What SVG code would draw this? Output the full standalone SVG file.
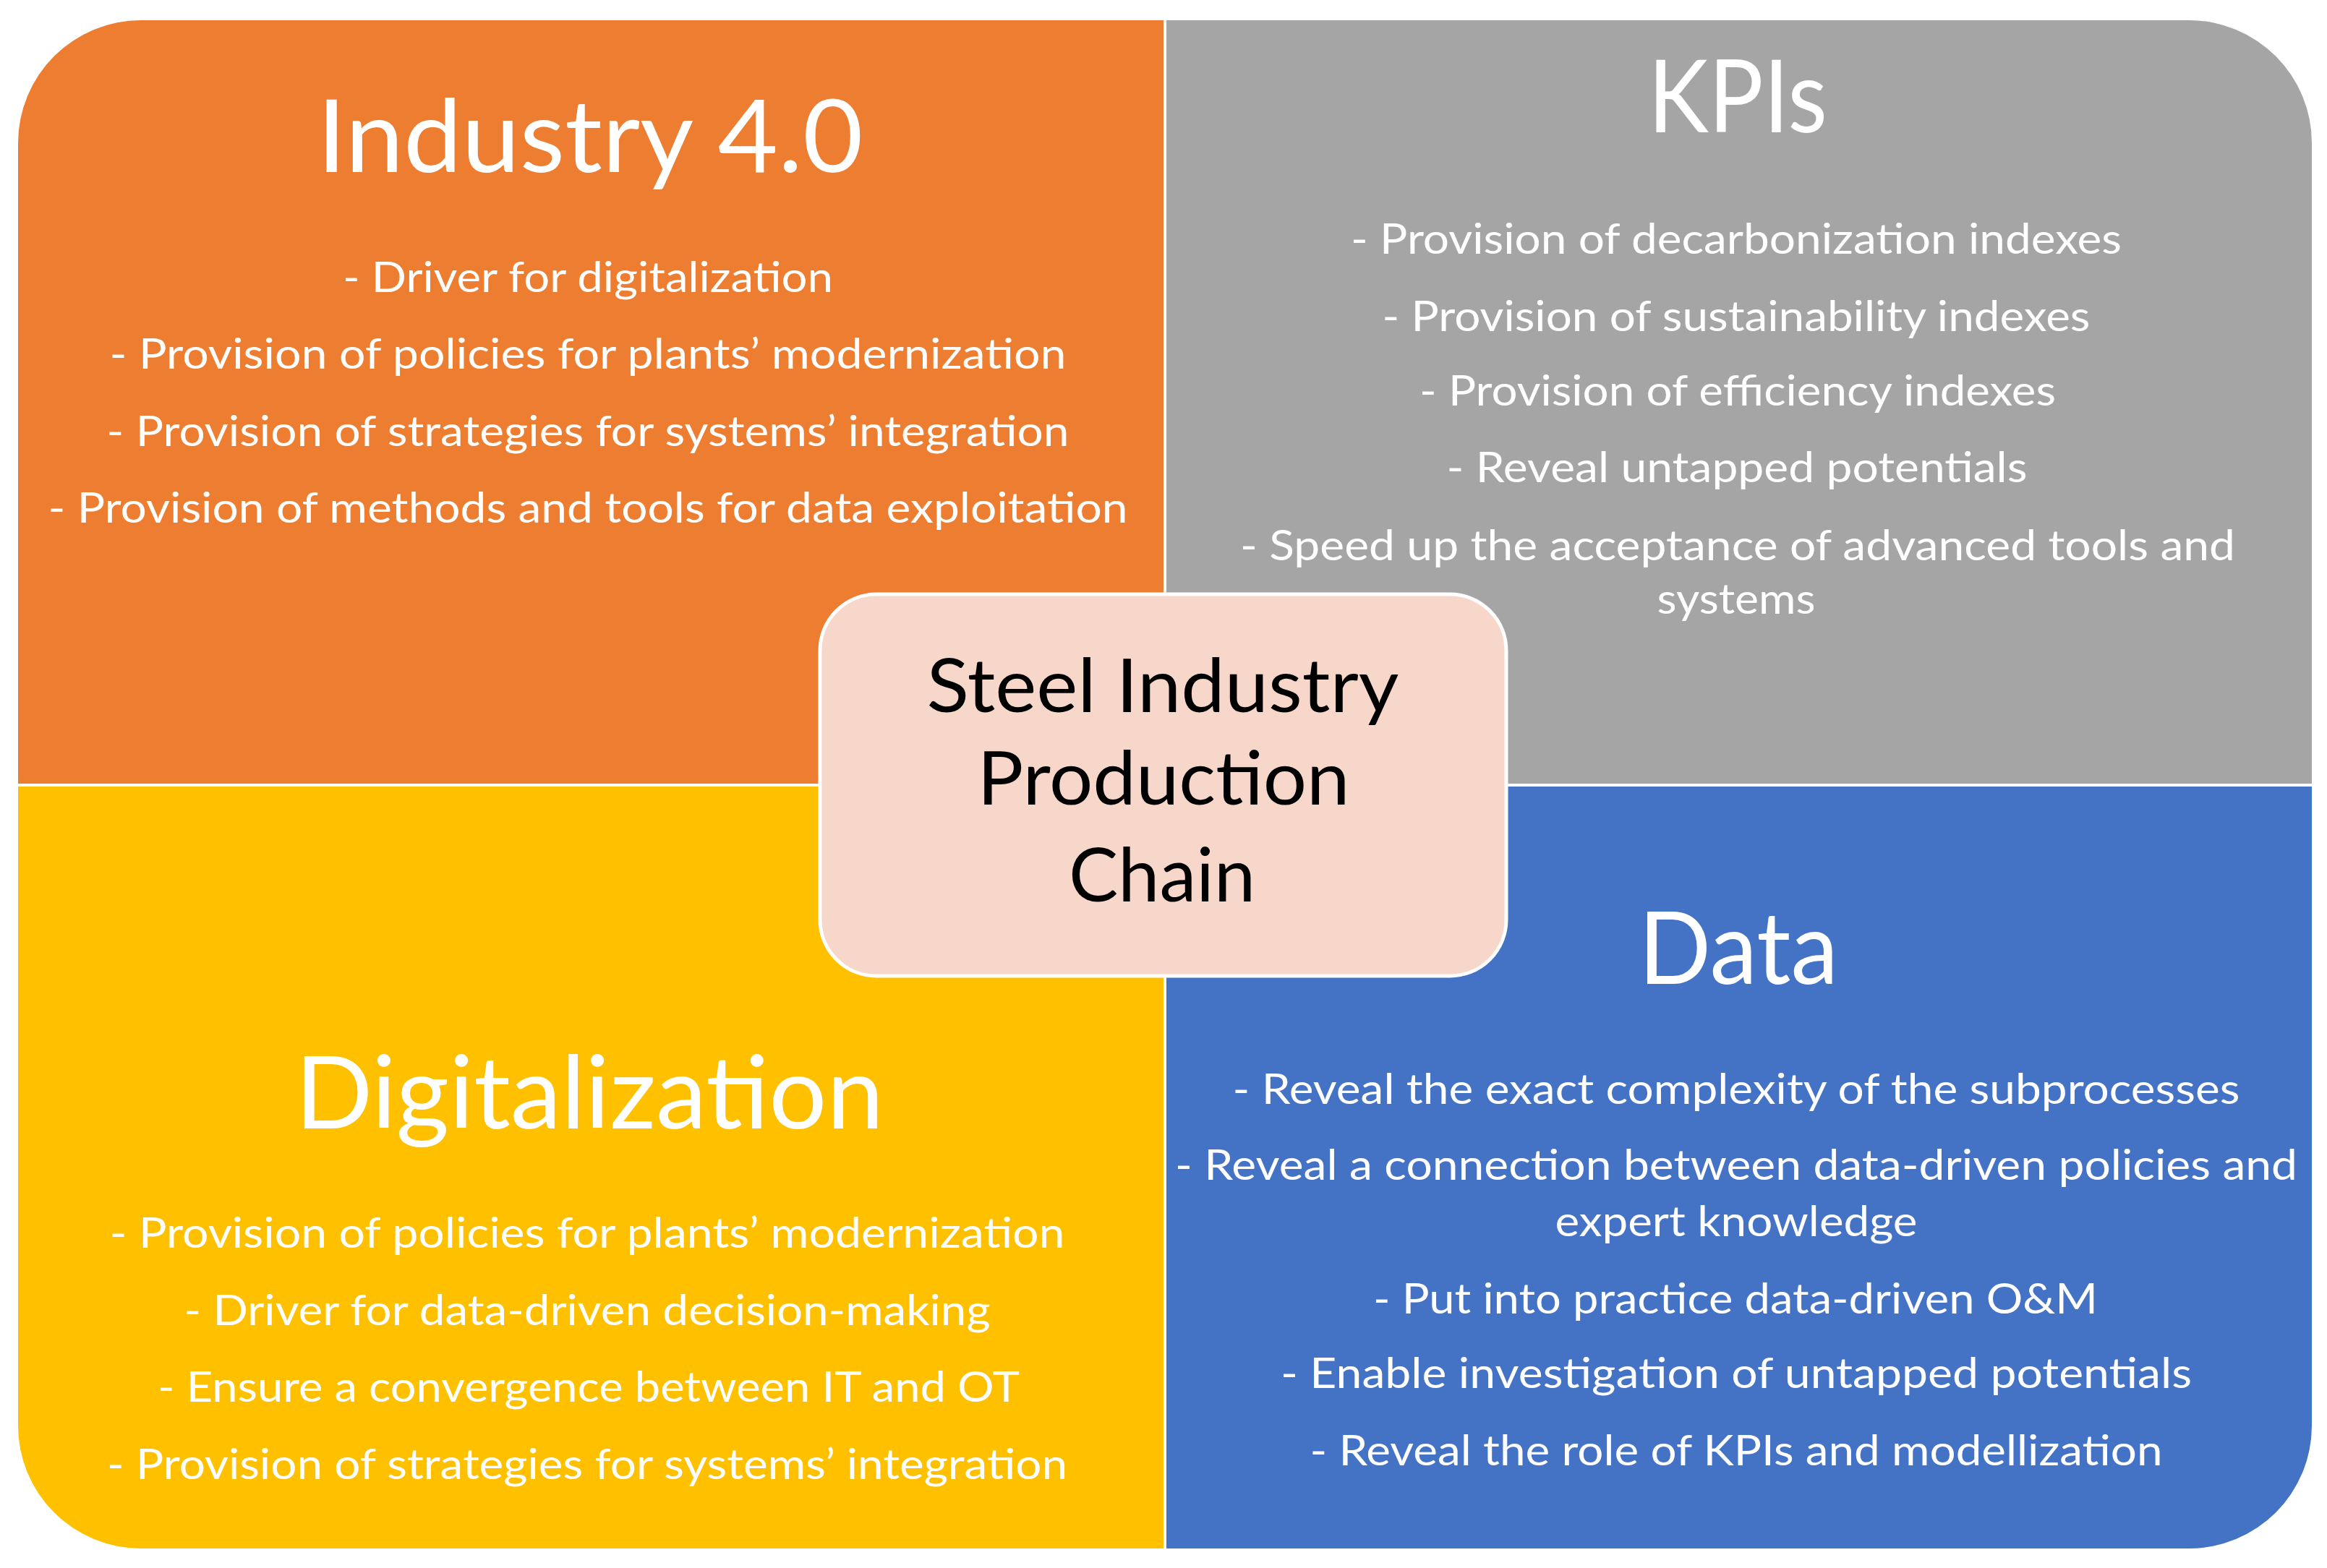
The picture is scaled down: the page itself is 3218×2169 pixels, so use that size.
<svg xmlns="http://www.w3.org/2000/svg" width="3218" height="2169" viewBox="0 0 3218 2169">
<style>
.t{font-family:Lato,"Open Sans","Liberation Sans",sans-serif;fill:#FFFFFF;text-anchor:middle}
.title{font-size:140px}
.body{font-size:58px}
.center{font-family:Lato,"Open Sans","Liberation Sans",sans-serif;fill:#000000;text-anchor:middle;font-size:102px}
</style>
<rect x="0" y="0" width="3218" height="2169" fill="#FFFFFF"/>
<g id="industry40">
<path d="M25,198 A170,170 0 0 1 195,28 H1609 V1084 H25 Z" fill="#ED7D31"/>
<text class="t title" x="816" y="238" textLength="755" lengthAdjust="spacingAndGlyphs">Industry 4.0</text>
<text class="t body" x="813" y="404" textLength="678" lengthAdjust="spacingAndGlyphs">- Driver for digitalization</text>
<text class="t body" x="813" y="510" textLength="1323" lengthAdjust="spacingAndGlyphs">- Provision of policies for plants’ modernization</text>
<text class="t body" x="813" y="617" textLength="1331" lengthAdjust="spacingAndGlyphs">- Provision of strategies for systems’ integration</text>
<text class="t body" x="813" y="723" textLength="1493" lengthAdjust="spacingAndGlyphs">- Provision of methods and tools for data exploitation</text>
</g>
<g id="kpis">
<path d="M1613,28 H3027 A170,170 0 0 1 3197,198 V1084 H1613 Z" fill="#A5A5A5"/>
<text class="t title" x="2403" y="183" textLength="248" lengthAdjust="spacingAndGlyphs">KPIs</text>
<text class="t body" x="2401" y="351" textLength="1066" lengthAdjust="spacingAndGlyphs">- Provision of decarbonization indexes</text>
<text class="t body" x="2401" y="458" textLength="979" lengthAdjust="spacingAndGlyphs">- Provision of sustainability indexes</text>
<text class="t body" x="2403" y="561" textLength="880" lengthAdjust="spacingAndGlyphs">- Provision of efficiency indexes</text>
<text class="t body" x="2402" y="667" textLength="803" lengthAdjust="spacingAndGlyphs">- Reveal untapped potentials</text>
<text class="t body" x="2403" y="775" textLength="1376" lengthAdjust="spacingAndGlyphs">- Speed up the acceptance of advanced tools and</text>
<text class="t body" x="2401" y="849" textLength="219" lengthAdjust="spacingAndGlyphs">systems</text>
</g>
<g id="digitalization">
<path d="M25,1088 H1609 V2142 H195 A170,170 0 0 1 25,1972 Z" fill="#FFC000"/>
<text class="t title" x="815" y="1561" textLength="814" lengthAdjust="spacingAndGlyphs">Digitalization</text>
<text class="t body" x="812" y="1726" textLength="1321" lengthAdjust="spacingAndGlyphs">- Provision of policies for plants’ modernization</text>
<text class="t body" x="812" y="1833" textLength="1115" lengthAdjust="spacingAndGlyphs">- Driver for data-driven decision-making</text>
<text class="t body" x="814" y="1939" textLength="1192" lengthAdjust="spacingAndGlyphs">- Ensure a convergence between IT and OT</text>
<text class="t body" x="812" y="2046" textLength="1328" lengthAdjust="spacingAndGlyphs">- Provision of strategies for systems’ integration</text>
</g>
<g id="data">
<path d="M1613,1088 H3197 V1972 A170,170 0 0 1 3027,2142 H1613 Z" fill="#4472C4"/>
<text class="t title" x="2404" y="1361" textLength="276" lengthAdjust="spacingAndGlyphs">Data</text>
<text class="t body" x="2401" y="1527" textLength="1393" lengthAdjust="spacingAndGlyphs">- Reveal the exact complexity of the subprocesses</text>
<text class="t body" x="2401" y="1632" textLength="1552" lengthAdjust="spacingAndGlyphs">- Reveal a connection between data-driven policies and</text>
<text class="t body" x="2401" y="1710" textLength="501" lengthAdjust="spacingAndGlyphs">expert knowledge</text>
<text class="t body" x="2400" y="1817" textLength="1002" lengthAdjust="spacingAndGlyphs">- Put into practice data-driven O&amp;M</text>
<text class="t body" x="2401" y="1920" textLength="1260" lengthAdjust="spacingAndGlyphs">- Enable investigation of untapped potentials</text>
<text class="t body" x="2401" y="2027" textLength="1179" lengthAdjust="spacingAndGlyphs">- Reveal the role of KPIs and modellization</text>
</g>
<g id="connectors"></g>
<g id="steel-chain">
<rect x="1134" y="822" width="949" height="528" rx="78" ry="78" fill="#F8D7CB" stroke="#FFFFFF" stroke-width="5"/>
<text class="center" x="1608" y="985" textLength="653" lengthAdjust="spacingAndGlyphs">Steel Industry</text>
<text class="center" x="1609" y="1113" textLength="515" lengthAdjust="spacingAndGlyphs">Production</text>
<text class="center" x="1607" y="1247" textLength="258" lengthAdjust="spacingAndGlyphs">Chain</text>
</g>
</svg>
